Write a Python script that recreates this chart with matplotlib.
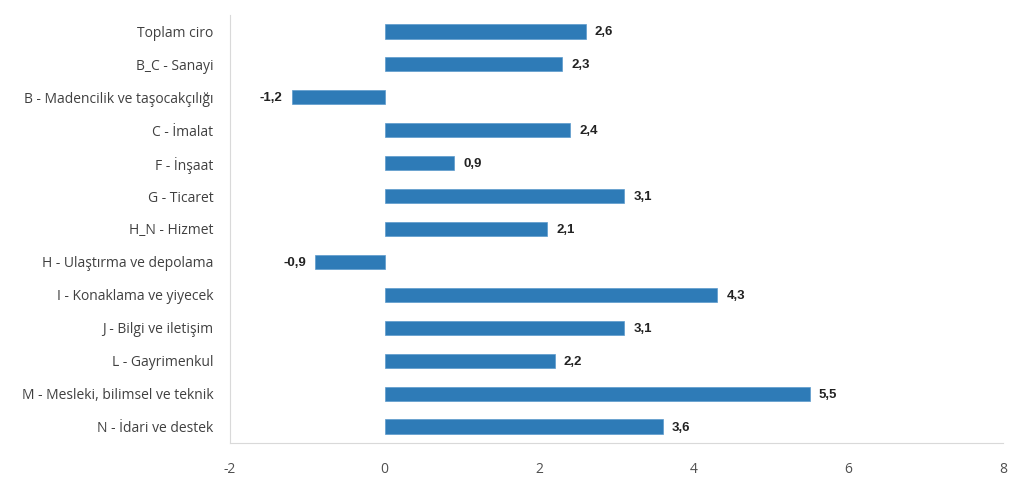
import matplotlib.pyplot as plt

plt.rcParams['font.family'] = ['Open Sans', 'DejaVu Sans']

# Sector labels and annual turnover change values (%)
categories = [
    'Toplam ciro',
    'B_C - Sanayi',
    'B - Madencilik ve taşocakçılığı',
    'C - İmalat',
    'F - İnşaat',
    'G - Ticaret',
    'H_N - Hizmet',
    'H - Ulaştırma ve depolama',
    'I - Konaklama ve yiyecek',
    'J - Bilgi ve iletişim',
    'L - Gayrimenkul',
    'M - Mesleki, bilimsel ve teknik',
    'N - İdari ve destek',
]
values = [2.6, 2.3, -1.2, 2.4, 0.9, 3.1, 2.1, -0.9, 4.3, 3.1, 2.2, 5.5, 3.6]
xticks = [-2, 0, 2, 4, 6, 8]

fig = plt.figure(figsize=(10.24, 5.03), dpi=100)
ax = fig.add_axes([230 / 1024, 1 - 443 / 503, (1003 - 230) / 1024, (443 - 15) / 503])

ypos = list(range(len(categories)))
ax.barh(ypos, values, height=0.43, color='#2e7bb7', edgecolor='#5c9acd', linewidth=0.5)

for y, v in zip(ypos, values):
    label = f'{v:.1f}'.replace('.', ',')
    if v >= 0:
        ax.text(v + 0.12, y + 0.03, label, va='center', ha='left', fontsize=9.5,
                fontweight='bold', family='Liberation Sans', color='#222222')
    else:
        ax.text(v - 0.12, y + 0.03, label, va='center', ha='right', fontsize=9.5,
                fontweight='bold', family='Liberation Sans', color='#222222')

ax.set_ylim(len(categories) - 0.5, -0.5)
ax.set_xlim(-2, 8)
ax.set_yticks(ypos)
ax.set_yticklabels(categories, fontsize=10, color='#404040')
ax.set_xticks(xticks)
ax.set_xticklabels([str(t) for t in xticks], fontsize=10, color='#505050')

for side in ['top', 'right']:
    ax.spines[side].set_visible(False)
ax.spines['left'].set_color('#d9d9d9')
ax.spines['bottom'].set_color('#d9d9d9')
ax.tick_params(axis='both', length=0)
ax.tick_params(axis='y', pad=12)
ax.tick_params(axis='x', pad=14)

fig.savefig('out.png', dpi=100)
